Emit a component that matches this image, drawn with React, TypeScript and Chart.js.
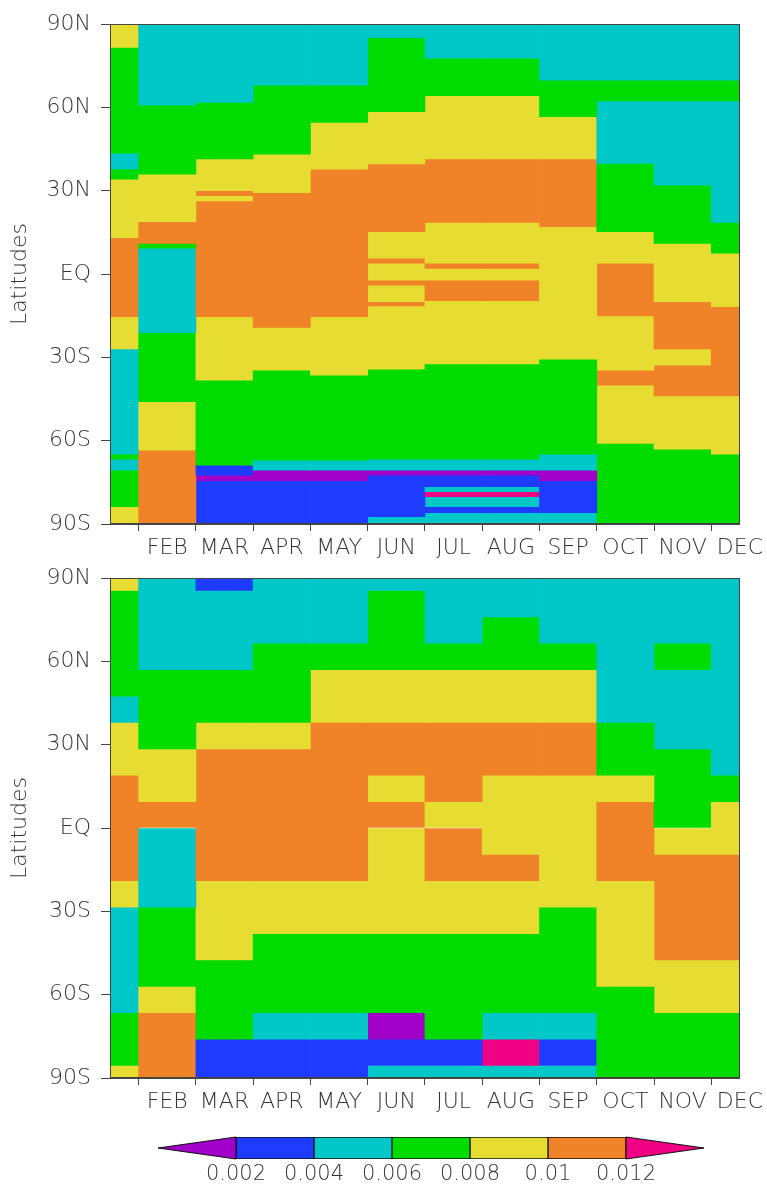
import React, { useEffect, useRef } from 'react';
import { Chart, registerables } from 'chart.js';

Chart.register(...registerables);

// ---------- axes / legend ----------
const months = ['JAN', 'FEB', 'MAR', 'APR', 'MAY', 'JUN', 'JUL', 'AUG', 'SEP', 'OCT', 'NOV', 'DEC'];
const latTicks = [-90, -60, -30, 0, 30, 60, 90];
const latTickLabels = ['90S', '60S', '30S', 'EQ', '30N', '60N', '90N'];
const levels = [0.002, 0.004, 0.006, 0.008, 0.01, 0.012];
const levelLabels = ['0.002', '0.004', '0.006', '0.008', '0.01', '0.012'];
const levelColors = [
  'rgb(160,0,200)',
  'rgb(30,60,255)',
  'rgb(0,200,200)',
  'rgb(0,220,0)',
  'rgb(230,220,50)',
  'rgb(240,130,40)',
  'rgb(240,0,130)',
];
const colorbarRange = [0, 0.014];

// ---------- upper panel: latitude band edges (N -> S) and values per month ----------
const upperEdges: number[][] = [
  [90, 81.6, 43.5, 37.8, 34.1, 13.1, -15.4, -27, -64.9, -66.7, -70.6, -83.8, -90],
  [90, 60.8, 35.9, 18.8, 11, 9.3, -21.1, -46, -63.4, -90],
  [90, 61.8, 41.4, 30, 28.2, 26.3, -15.4, -38.2, -68.8, -72.4, -74.4, -90],
  [90, 68, 43.1, 29.3, -19.2, -34.6, -67, -70.6, -74.4, -90],
  [90, 68, 54.6, 37.7, -15.4, -36.4, -67, -70.6, -74.4, -90],
  [90, 85.1, 58.4, 39.6, 15.2, 5.7, 3.9, -2.2, -4, -10, -11.5, -34.3, -66.7, -70.6, -72.4, -87.4, -90],
  [90, 77.7, 64.2, 41.4, 18.6, 3.9, 2.05, -2.2, -9.6, -32.4, -66.7, -70.6, -72.4, -76.6, -78.4, -80.2, -83.8, -85.9, -90],
  [90, 77.7, 64.2, 41.4, 18.6, 3.9, 2.05, -2.2, -9.6, -32.4, -66.7, -70.6, -72.4, -76.6, -78.4, -80.2, -83.8, -85.9, -90],
  [90, 69.8, 56.6, 41.4, 17, -30.7, -64.9, -70.6, -74.4, -85.9, -90],
  [90, 69.8, 62.3, 39.8, 15.2, 3.9, -15.1, -34.6, -40, -61, -90],
  [90, 69.8, 62.3, 32, 11, -10, -27, -32.8, -43.9, -63.1, -90],
  [90, 69.8, 62.3, 18.6, 7.5, -11.8, -43.9, -64.9, -90],
];
const upperValues: number[][] = [
  [0.009, 0.007, 0.005, 0.007, 0.009, 0.011, 0.009, 0.005, 0.007, 0.005, 0.007, 0.009],
  [0.005, 0.007, 0.009, 0.011, 0.007, 0.005, 0.007, 0.009, 0.011],
  [0.005, 0.007, 0.009, 0.011, 0.009, 0.011, 0.009, 0.007, 0.003, 0.001, 0.003],
  [0.005, 0.007, 0.009, 0.011, 0.009, 0.007, 0.005, 0.001, 0.003],
  [0.005, 0.007, 0.009, 0.011, 0.009, 0.007, 0.005, 0.001, 0.003],
  [0.005, 0.007, 0.009, 0.011, 0.009, 0.011, 0.009, 0.011, 0.009, 0.011, 0.009, 0.007, 0.005, 0.001, 0.003, 0.005],
  [0.005, 0.007, 0.009, 0.011, 0.009, 0.011, 0.009, 0.011, 0.009, 0.007, 0.005, 0.001, 0.003, 0.005, 0.013, 0.005, 0.003, 0.005],
  [0.005, 0.007, 0.009, 0.011, 0.009, 0.011, 0.009, 0.011, 0.009, 0.007, 0.005, 0.001, 0.003, 0.005, 0.013, 0.005, 0.003, 0.005],
  [0.005, 0.007, 0.009, 0.011, 0.009, 0.007, 0.005, 0.001, 0.003, 0.005],
  [0.005, 0.007, 0.005, 0.007, 0.009, 0.011, 0.009, 0.011, 0.009, 0.007],
  [0.005, 0.007, 0.005, 0.007, 0.009, 0.011, 0.009, 0.011, 0.009, 0.007],
  [0.005, 0.007, 0.005, 0.007, 0.009, 0.011, 0.009, 0.007],
];

// ---------- lower panel ----------
const lowerEdges: number[][] = [
  [90, 85.5, 47.5, 38, 19, -19, -28.5, -66.5, -85.5, -90],
  [90, 57, 28.5, 9.5, 0, -28.5, -57, -66.5, -90],
  [90, 85.5, 57, 38, 28.5, -19, -47.5, -76, -90],
  [90, 66.5, 38, 28.5, -19, -38, -66.5, -76, -90],
  [90, 66.5, 57, 38, -19, -38, -66.5, -76, -90],
  [90, 85.5, 57, 38, 19, 9.5, 0, -38, -66.5, -76, -85.5, -90],
  [90, 66.5, 57, 38, 9.5, 0, -19, -38, -76, -85.5, -90],
  [90, 76, 57, 38, 19, -9.5, -19, -38, -66.5, -76, -85.5, -90],
  [90, 66.5, 57, 38, 19, -28.5, -66.5, -76, -85.5, -90],
  [90, 38, 19, 9.5, -19, -57, -90],
  [90, 66.5, 57, 28.5, 0, -9.5, -47.5, -66.5, -90],
  [90, 19, 9.5, -9.5, -47.5, -66.5, -90],
];
const lowerValues: number[][] = [
  [0.009, 0.007, 0.005, 0.009, 0.011, 0.009, 0.005, 0.007, 0.009],
  [0.005, 0.007, 0.009, 0.011, 0.005, 0.007, 0.009, 0.011],
  [0.003, 0.005, 0.007, 0.009, 0.011, 0.009, 0.007, 0.003],
  [0.005, 0.007, 0.009, 0.011, 0.009, 0.007, 0.005, 0.003],
  [0.005, 0.007, 0.009, 0.011, 0.009, 0.007, 0.005, 0.003],
  [0.005, 0.007, 0.009, 0.011, 0.009, 0.011, 0.009, 0.007, 0.001, 0.003, 0.005],
  [0.005, 0.007, 0.009, 0.011, 0.009, 0.011, 0.009, 0.007, 0.003, 0.005],
  [0.005, 0.007, 0.009, 0.011, 0.009, 0.011, 0.009, 0.007, 0.005, 0.013, 0.005],
  [0.005, 0.007, 0.009, 0.011, 0.009, 0.007, 0.005, 0.003, 0.005],
  [0.005, 0.007, 0.009, 0.011, 0.009, 0.007],
  [0.005, 0.007, 0.005, 0.007, 0.009, 0.011, 0.009, 0.007],
  [0.005, 0.007, 0.009, 0.011, 0.009, 0.007],
];

// ---------- styling ----------
const FONT_FAMILY = '"DejaVu Sans", sans-serif';
const textColor = '#333';
const axisColor = '#444';
const tickFont = { family: FONT_FAMILY, size: 22, weight: '200' as any };

function colorOf(v: number): string {
  let i = 0;
  while (i < levels.length && v >= levels[i]) i++;
  return levelColors[i];
}

const framePlugin = {
  id: 'frame',
  afterDatasetsDraw(chart: any) {
    const { ctx, chartArea } = chart;
    ctx.save();
    ctx.strokeStyle = axisColor;
    ctx.lineWidth = 1;
    ctx.strokeRect(
      Math.round(chartArea.left) + 0.5,
      Math.round(chartArea.top) + 0.5,
      Math.round(chartArea.right - chartArea.left) - 1,
      Math.round(chartArea.bottom - chartArea.top) - 1
    );
    ctx.restore();
  },
};

function Heatmap({ edges, values, top }: { edges: number[][]; values: number[][]; top: number }) {
  const ref = useRef<HTMLCanvasElement | null>(null);
  useEffect(() => {
    const maxSegs = Math.max(...values.map((v) => v.length));
    const datasets: any[] = [];
    for (let k = 0; k < maxSegs; k++) {
      datasets.push({
        data: months.map((_, m) => (k < values[m].length ? [edges[m][k + 1], edges[m][k]] : null)),
        backgroundColor: months.map((_, m) => (k < values[m].length ? colorOf(values[m][k]) : 'rgba(0,0,0,0)')),
        borderWidth: 0,
        grouped: false,
        barPercentage: 1,
        categoryPercentage: 1,
        clip: 0,
      });
    }
    const chart = new Chart(ref.current as HTMLCanvasElement, {
      type: 'bar',
      data: { labels: months, datasets },
      options: {
        animation: false,
        responsive: false,
        devicePixelRatio: 1,
        layout: { padding: { top: 24, right: 27, left: 0, bottom: 0 } },
        plugins: { legend: { display: false }, tooltip: { enabled: false } },
        scales: {
          x: {
            type: 'category',
            offset: false,
            grid: { display: true, drawOnChartArea: false, drawTicks: true, tickLength: 7, color: axisColor },
            border: { display: true, color: axisColor },
            ticks: {
              autoSkip: false,
              maxRotation: 0,
              minRotation: 0,
              padding: 4,
              color: textColor,
              font: tickFont,
              callback: (_v: any, i: number) => (i === 0 ? '' : months[i]),
            },
            afterFit: (s: any) => {
              s.height = 36;
            },
          },
          y: {
            type: 'linear',
            min: -90,
            max: 90,
            afterBuildTicks: (s: any) => {
              s.ticks = latTicks.map((v) => ({ value: v }));
            },
            grid: { display: true, drawOnChartArea: false, drawTicks: true, tickLength: 9, color: axisColor },
            border: { display: true, color: axisColor },
            ticks: {
              padding: 10,
              color: textColor,
              font: tickFont,
              callback: (v: any) => latTickLabels[latTicks.indexOf(Number(v))],
            },
            title: {
              display: true,
              text: 'Latitudes',
              color: textColor,
              font: tickFont,
              padding: { top: 7, bottom: 0 },
            },
            afterFit: (s: any) => {
              s.width = 110;
            },
          },
        },
      },
      plugins: [framePlugin],
    });
    return () => chart.destroy();
  }, [edges, values]);
  return (
    <canvas
      ref={ref}
      width={767}
      height={560}
      style={{ position: 'absolute', left: 0, top, width: 767, height: 560 }}
    />
  );
}

const trianglePlugin = {
  id: 'cbTriangles',
  afterDatasetsDraw(chart: any) {
    const { ctx, chartArea, scales } = chart;
    const x = scales.x;
    const mid = (chartArea.top + chartArea.bottom) / 2;
    const tris = [
      { tip: colorbarRange[0], base: levels[0], color: levelColors[0] },
      { tip: colorbarRange[1], base: levels[levels.length - 1], color: levelColors[levelColors.length - 1] },
    ];
    ctx.save();
    for (const t of tris) {
      const xt = x.getPixelForValue(t.tip);
      const xb = x.getPixelForValue(t.base);
      ctx.beginPath();
      ctx.moveTo(xt, mid);
      ctx.lineTo(xb, chartArea.top);
      ctx.lineTo(xb, chartArea.bottom);
      ctx.closePath();
      ctx.fillStyle = t.color;
      ctx.fill();
      ctx.strokeStyle = '#111';
      ctx.lineWidth = 1;
      ctx.stroke();
    }
    ctx.restore();
  },
};

function Colorbar({ top }: { top: number }) {
  const ref = useRef<HTMLCanvasElement | null>(null);
  useEffect(() => {
    const datasets = levels.slice(0, -1).map((lv, i) => ({
      data: [[lv, levels[i + 1]]],
      backgroundColor: levelColors[i + 1],
      borderColor: '#111',
      borderWidth: 1,
      borderSkipped: false,
      grouped: false,
      barPercentage: 1,
      categoryPercentage: 1,
    }));
    const chart = new Chart(ref.current as HTMLCanvasElement, {
      type: 'bar',
      data: { labels: ['cb'], datasets: datasets as any },
      options: {
        indexAxis: 'y',
        animation: false,
        responsive: false,
        devicePixelRatio: 1,
        layout: { padding: { top: 17, left: 158, right: 63, bottom: 0 } },
        plugins: { legend: { display: false }, tooltip: { enabled: false } },
        scales: {
          x: {
            type: 'linear',
            min: colorbarRange[0],
            max: colorbarRange[1],
            afterBuildTicks: (s: any) => {
              s.ticks = levels.map((v) => ({ value: v }));
            },
            grid: { display: false, drawTicks: false },
            border: { display: false },
            ticks: {
              padding: 3,
              color: textColor,
              font: { family: FONT_FAMILY, size: 21, weight: '200' as any },
              callback: (v: any) => levelLabels[levels.indexOf(Number(v))],
            },
            afterFit: (s: any) => {
              s.height = 25;
            },
          },
          y: { display: false },
        },
      },
      plugins: [trianglePlugin],
    });
    return () => chart.destroy();
  }, []);
  return (
    <canvas
      ref={ref}
      width={767}
      height={64}
      style={{ position: 'absolute', left: 0, top, width: 767, height: 64 }}
    />
  );
}

export default function App() {
  return (
    <div style={{ position: 'absolute', left: 0, top: 0, width: 767, height: 1184, background: '#fff', overflow: 'hidden' }}>
      <Heatmap edges={upperEdges} values={upperValues} top={0} />
      <Heatmap edges={lowerEdges} values={lowerValues} top={554} />
      <Colorbar top={1120} />
    </div>
  );
}
